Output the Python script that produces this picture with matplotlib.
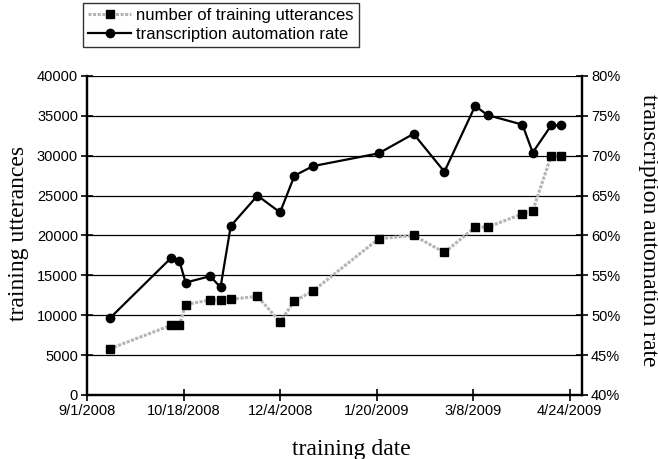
import matplotlib
matplotlib.use("Agg")
import matplotlib.pyplot as plt
import matplotlib.dates as mdates
from matplotlib.ticker import PercentFormatter
from datetime import datetime

# %% data
dates = ["2008-09-12", "2008-10-12", "2008-10-16", "2008-10-19", "2008-10-31",
         "2008-11-05", "2008-11-10", "2008-11-23", "2008-12-04", "2008-12-11",
         "2008-12-20", "2009-01-21", "2009-02-07", "2009-02-22", "2009-03-09",
         "2009-03-15", "2009-04-01", "2009-04-06", "2009-04-15", "2009-04-20"]
utterances = [5790, 8750, 8750, 11340, 11920, 11920, 12000, 12375, 9170, 11800,
              13040, 19590, 20000, 17875, 21040, 21040, 22710, 23080, 30000, 30000]
automation_rate = [49.6, 57.2, 56.8, 54.1, 54.9, 53.5, 61.2, 65.0, 62.9, 67.5,
                   68.7, 70.3, 72.75, 68.0, 76.25, 75.1, 73.9, 70.4, 73.8, 73.8]

tick_dates = ["2008-09-01", "2008-10-18", "2008-12-04", "2009-01-20", "2009-03-08", "2009-04-24"]
tick_labels = ["9/1/2008", "10/18/2008", "12/4/2008", "1/20/2009", "3/8/2009", "4/24/2009"]
x_range = ["2008-09-01", "2009-04-30"]

to_dt = lambda lst: [datetime.strptime(d, "%Y-%m-%d") for d in lst]
x = to_dt(dates)

# %% figure
W, H = 658, 459
fig = plt.figure(figsize=(W / 100, H / 100), dpi=100)
ax = fig.add_axes([87 / W, 1 - 395 / H, (582 - 87) / W, (395 - 76) / H])
ax2 = ax.twinx()

sans = "Liberation Sans"
serif = "Liberation Serif"

l1, = ax.plot(x, utterances, color="#b4b4b4", lw=2.2, ls=(0, (1, 0.5)),
              marker="s", ms=6, mfc="black", mec="black", zorder=3)
l2, = ax2.plot(x, automation_rate, color="black", lw=1.6,
               marker="o", ms=6, mfc="black", mec="black", zorder=4)

ax.set_ylim(0, 40000)
ax.set_yticks(range(0, 40001, 5000))
ax2.set_ylim(40, 80)
ax2.set_yticks(range(40, 81, 5))
ax2.yaxis.set_major_formatter(PercentFormatter(decimals=0))

xr = to_dt(x_range)
ax.set_xlim(mdates.date2num(xr[0]), mdates.date2num(xr[1]))
ax.set_xticks(mdates.date2num(to_dt(tick_dates)))
ax.set_xticklabels(tick_labels)

ax.grid(axis="y", color="black", lw=0.9)
ax.set_axisbelow(True)
for a in (ax, ax2):
    a.spines["top"].set_visible(False)
    for s in ("left", "bottom", "right"):
        a.spines[s].set_linewidth(1.6)
ax.tick_params(axis="y", direction="inout", length=9, width=1.2, labelsize=10.5, pad=2)
ax.tick_params(axis="x", direction="inout", length=9, width=1.2, labelsize=10.5, pad=2)
ax2.tick_params(axis="y", direction="inout", length=9, width=1.2, labelsize=10.5, pad=2)
for lab in ax.get_xticklabels() + ax.get_yticklabels() + ax2.get_yticklabels():
    lab.set_family(sans)

# axis titles placed where the reference has them
fig.text(351 / W, 1 - 450 / H, "training date", family=serif, fontsize=17,
         ha="center", va="center")
fig.text(19 / W, 1 - 233 / H, "training utterances", family=serif, fontsize=17,
         ha="center", va="center", rotation=90)
fig.text(649 / W, 1 - 230 / H, "transcription automation rate", family=serif,
         fontsize=17, ha="center", va="center", rotation=270)

fig.legend([l1, l2], ["number of training utterances", "transcription automation rate"],
           loc="upper left", bbox_to_anchor=(83 / W, 1 - 3 / H),
           prop={"family": sans, "size": 12}, frameon=True, fancybox=False,
           edgecolor="black", borderpad=0.3, labelspacing=0.25, handlelength=2.6,
           handletextpad=0.3, borderaxespad=0)

fig.savefig("out.png", dpi=100)
